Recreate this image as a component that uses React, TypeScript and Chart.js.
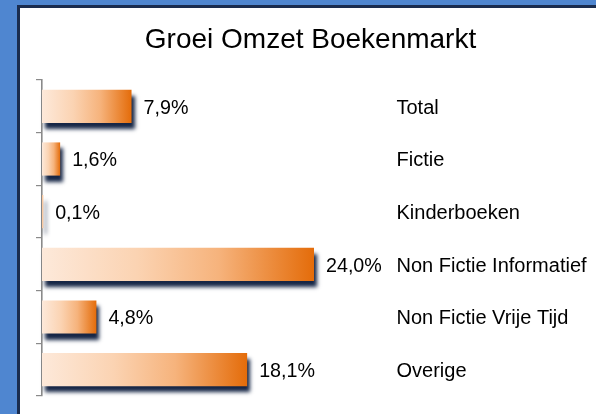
import { useEffect, useRef } from 'react';
import { Chart, registerables } from 'chart.js';

Chart.register(...registerables);

const chartTitle = 'Groei Omzet Boekenmarkt';
const categories = ['Total', 'Fictie', 'Kinderboeken', 'Non Fictie Informatief', 'Non Fictie Vrije Tijd', 'Overige'];
const growth = [7.9, 1.6, 0.1, 24.0, 4.8, 18.1];
const axisMax = 30;

const FONT = '"Liberation Sans", Arial, Helvetica, sans-serif';

const fmt = (v: number) => v.toFixed(1).replace('.', ',') + '%';

export default function App() {
  const canvasRef = useRef<HTMLCanvasElement | null>(null);

  useEffect(() => {
    const canvas = canvasRef.current;
    if (!canvas) return;

    const shadowPlugin = {
      id: 'barShadow',
      beforeDatasetsDraw(chart: any) {
        const c = chart.ctx;
        c.save();
        c.shadowColor = 'rgba(22,38,70,1)';
        c.shadowOffsetX = 3;
        c.shadowOffsetY = 6;
        c.shadowBlur = 4;
      },
      afterDatasetsDraw(chart: any) {
        chart.ctx.restore();
      },
    };

    const textPlugin = {
      id: 'texts',
      afterDraw(chart: any) {
        const c = chart.ctx;
        const meta = chart.getDatasetMeta(0);
        c.save();
        c.fillStyle = '#000';
        c.textAlign = 'center';
        c.textBaseline = 'alphabetic';
        c.font = `28px ${FONT}`;
        c.fillText(chartTitle, 310.5, 48);
        c.textAlign = 'left';
        meta.data.forEach((bar: any, i: number) => {
          const y = bar.y + 7.3;
          c.font = `19.7px ${FONT}`;
          c.fillText(fmt(growth[i]), bar.x + 12, y);
          c.font = `20px ${FONT}`;
          c.fillText(categories[i], 396.5, y);
        });
        c.restore();
      },
    };

    const chart = new Chart(canvas, {
      type: 'bar',
      data: {
        labels: categories,
        datasets: [
          {
            data: growth,
            borderWidth: 0,
            barPercentage: 0.63,
            categoryPercentage: 1,
            clip: false as any,
            backgroundColor: (ctx: any) => {
              const ch = ctx.chart;
              const xs = ch.scales.x;
              if (!xs || !ch.chartArea) return '#e46c0a';
              const v = growth[ctx.dataIndex] ?? 0;
              const x0 = xs.getPixelForValue(0);
              const x1 = Math.max(xs.getPixelForValue(v), x0 + 1);
              const g = ch.ctx.createLinearGradient(x0, 0, x1, 0);
              g.addColorStop(0, '#fde9da');
              g.addColorStop(0.35, '#fbd3b2');
              g.addColorStop(0.65, '#f6b37c');
              g.addColorStop(1, '#e46c0a');
              return g;
            },
          },
        ],
      },
      options: {
        indexAxis: 'y',
        responsive: false,
        animation: false,
        maintainAspectRatio: false,
        layout: { padding: { top: 80, bottom: 18, left: 36, right: 214 } },
        plugins: {
          legend: { display: false },
          title: { display: false },
          tooltip: { enabled: false },
        },
        scales: {
          x: { display: false, min: 0, max: axisMax },
          y: {
            display: true,
            offset: true,
            ticks: { display: false },
            grid: {
              offset: true,
              drawOnChartArea: false,
              drawTicks: true,
              tickLength: 6,
              color: '#8a8a8a',
              lineWidth: 1.2,
            },
            border: { display: true, color: '#8a8a8a', width: 1.6 },
          },
        },
      },
      plugins: [shadowPlugin, textPlugin],
    } as any);

    return () => chart.destroy();
  }, []);

  return (
    <div style={{ position: 'fixed', left: 0, top: 0, width: 596, height: 414, background: '#4f86d0', overflow: 'hidden' }}>
      <div style={{ position: 'absolute', left: 17, top: 5, width: 600, height: 420, background: '#fff', border: '3px solid #1a2c4e' }} />
      <div style={{ position: 'absolute', left: 0, top: 0, width: 596, height: 414 }}>
        <canvas ref={canvasRef} width={596} height={414} style={{ display: 'block' }} />
      </div>
    </div>
  );
}
